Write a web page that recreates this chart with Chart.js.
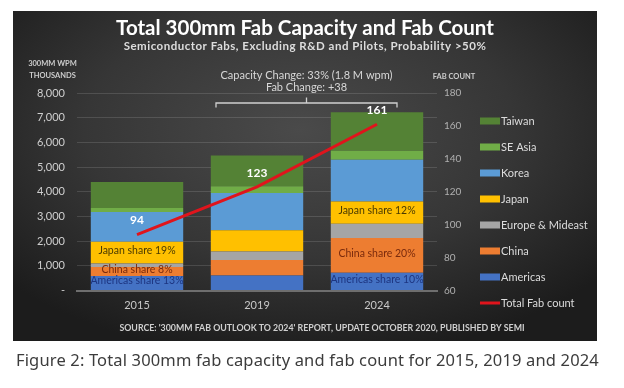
<!DOCTYPE html>
<html>
<head>
<meta charset="utf-8">
<script src="https://cdn.jsdelivr.net/npm/chart.js@4.4.1/dist/chart.umd.min.js"></script>
<style>
  html, body { margin: 0; padding: 0; background: #ffffff; }
  #wrap { position: relative; width: 624px; height: 388px; }
  canvas { display: block; }
</style>
</head>
<body>
<div id="wrap"><canvas id="c" width="624" height="388"></canvas></div>
<script>
// ---- data ----
const categories = ['2015', '2019', '2024'];
const americas = [590, 610, 720];
const china = [360, 630, 1410];
const europeMideast = [140, 340, 570];
const japan = [880, 860, 910];
const korea = [1210, 1510, 1690];
const seAsia = [160, 270, 360];
const taiwan = [1050, 1250, 1560];
const fabCount = [94, 123, 161];
const leftTickLabels = ['-', '1,000', '2,000', '3,000', '4,000', '5,000', '6,000', '7,000', '8,000'];
const rightTickLabels = ['60', '80', '100', '120', '140', '160', '180'];
const japanShare = ['Japan share 19%', '', 'Japan share 12%'];
const chinaShare = ['China share 8%', '', 'China share 20%'];
const americasShare = ['Americas share 13%', '', 'Americas share 10%'];
const titleText = 'Total 300mm Fab Capacity and Fab Count';
const subtitleText = 'Semiconductor Fabs, Excluding R&D and Pilots, Probability >50%';
const leftAxisTitle = ['300MM WPM', 'THOUSANDS'];
const rightAxisTitle = 'FAB COUNT';
const changeNotes = ['Capacity Change: 33% (1.8 M wpm)', 'Fab Change: +38'];
const sourceText = "SOURCE: '300MM FAB OUTLOOK TO 2024' REPORT, UPDATE OCTOBER 2020, PUBLISHED BY SEMI";
const captionText = 'Figure 2: Total 300mm fab capacity and fab count for 2015, 2019 and 2024';

const FONT = 'Lato, "Liberation Sans", sans-serif';

const barSets = [
  { label: 'Americas', data: americas, color: '#4472c4', share: americasShare, textColor: '#1d3580' },
  { label: 'China', data: china, color: '#ed7d31', share: chinaShare, textColor: '#7a2a0c' },
  { label: 'Europe & Mideast', data: europeMideast, color: '#a5a5a5', share: null },
  { label: 'Japan', data: japan, color: '#ffc000', share: japanShare, textColor: '#4a3a00' },
  { label: 'Korea', data: korea, color: '#5b9bd5', share: null },
  { label: 'SE Asia', data: seAsia, color: '#70ad47', share: null },
  { label: 'Taiwan', data: taiwan, color: '#548235', share: null }
];

const datasets = barSets.map(s => ({
  type: 'bar', label: s.label, data: s.data, backgroundColor: s.color,
  borderWidth: 0, yAxisID: 'y', stack: 'cap', order: 2,
  categoryPercentage: 1.0, barPercentage: 0.77,
  shareLabels: s.share, shareColor: s.textColor
}));
datasets.push({
  type: 'line', label: 'Total Fab count', data: fabCount, borderColor: '#e0141c',
  backgroundColor: '#e0141c', borderWidth: 3, pointRadius: 0, yAxisID: 'y1', order: 0,
  tension: 0
});

const panelPlugin = {
  id: 'panel',
  beforeDraw(chart) {
    const ctx = chart.ctx;
    ctx.save();
    ctx.fillStyle = '#ffffff';
    ctx.fillRect(0, 0, chart.width, chart.height);
    const x0 = 13, y0 = 11, x1 = 597, y1 = 341;
    ctx.save();
    ctx.beginPath(); ctx.rect(x0, y0, x1 - x0, y1 - y0); ctx.clip();
    ctx.translate(300, 130);
    ctx.scale(1.7, 1);
    const g = ctx.createRadialGradient(0, 0, 0, 0, 0, 230);
    g.addColorStop(0, '#4a4a4a');
    g.addColorStop(0.55, '#363636');
    g.addColorStop(1, '#1c1c1c');
    ctx.fillStyle = g;
    ctx.fillRect(-400, -300, 800, 600);
    ctx.restore();
    ctx.restore();
  }
};

const textPlugin = {
  id: 'texts',
  afterDatasetsDraw(chart) {
    const ctx = chart.ctx;
    ctx.save();
    ctx.textAlign = 'center';
    ctx.textBaseline = 'middle';
    // share labels inside bars
    chart.data.datasets.forEach((ds, di) => {
      if (!ds.shareLabels) return;
      const meta = chart.getDatasetMeta(di);
      meta.data.forEach((bar, i) => {
        const t = ds.shareLabels[i];
        if (!t) return;
        const cy = (bar.y + bar.base) / 2 - 2;
        ctx.font = '10.5px ' + FONT;
        ctx.fillStyle = ds.shareColor;
        ctx.fillText(t, bar.x, cy);
      });
    });
    // fab count labels
    const lineIdx = chart.data.datasets.length - 1;
    const lm = chart.getDatasetMeta(lineIdx);
    ctx.font = 'bold 12px ' + FONT;
    ctx.fillStyle = '#ffffff';
    lm.data.forEach((p, i) => {
      ctx.fillText(String(fabCount[i]), p.x, p.y - 14);
    });
    ctx.restore();
  },
  afterDraw(chart) {
    const ctx = chart.ctx;
    const xs = chart.scales.x;
    ctx.save();
    ctx.textAlign = 'center';
    ctx.textBaseline = 'middle';
    // title & subtitle
    ctx.fillStyle = '#ffffff';
    ctx.font = 'bold 20.5px ' + FONT;
    ctx.fillText(titleText, 305, 28);
    ctx.fillStyle = '#dddddd';
    ctx.font = 'bold 11.5px ' + FONT;
    ctx.letterSpacing = '0.5px';
    ctx.fillText(subtitleText, 305, 46.5);
    ctx.letterSpacing = '0px';
    // axis titles
    ctx.fillStyle = '#cccccc';
    ctx.font = 'bold 7.5px ' + FONT;
    ctx.fillText(leftAxisTitle[0], 52.5, 64);
    ctx.fillText(leftAxisTitle[1], 52.5, 76);
    ctx.fillText(rightAxisTitle, 454, 77);
    // change notes + bracket
    const bl = xs.getPixelForValue(1) - 41, br = xs.getPixelForValue(2) + 20;
    const mid = (bl + br) / 2;
    ctx.fillStyle = '#d8d8d8';
    ctx.font = '11px ' + FONT;
    ctx.fillText(changeNotes[0], mid, 75);
    ctx.fillText(changeNotes[1], mid, 87.5);
    ctx.strokeStyle = '#d0d0d0';
    ctx.lineWidth = 1.3;
    ctx.beginPath();
    ctx.moveTo(bl, 107.5); ctx.lineTo(bl, 103); ctx.lineTo(br, 103); ctx.lineTo(br, 107.5);
    ctx.moveTo(mid, 103); ctx.lineTo(mid, 97.5);
    ctx.stroke();
    // legend (custom, reversed bar order + line)
    const items = chart.data.datasets.slice(0, -1).reverse();
    items.push(chart.data.datasets[chart.data.datasets.length - 1]);
    ctx.textAlign = 'left';
    ctx.font = '11px ' + FONT;
    items.forEach((d, i) => {
      const y = 121 + i * 26;
      if (d.type === 'line') {
        ctx.fillStyle = d.borderColor;
        ctx.fillRect(480, y - 1.5, 20, 3);
      } else {
        ctx.fillStyle = d.backgroundColor;
        ctx.fillRect(480, y - 3.5, 20, 7);
      }
      ctx.fillStyle = '#dcdcdc';
      ctx.fillText(d.label, 501, y);
    });
    // source
    ctx.textAlign = 'center';
    ctx.fillStyle = '#cfcfcf';
    ctx.font = 'bold 8.8px ' + FONT;
    ctx.fillText(sourceText, 322, 328);
    // caption
    ctx.textAlign = 'left';
    ctx.fillStyle = '#3c3c3c';
    ctx.font = '16.5px "Noto Sans", sans-serif';
    ctx.letterSpacing = '0.15px';
    ctx.fillText(captionText, 16, 361);
    ctx.letterSpacing = '0px';
    ctx.restore();
  }
};

new Chart(document.getElementById('c'), {
  data: { labels: categories, datasets },
  options: {
    responsive: false,
    devicePixelRatio: 1,
    animation: false,
    layout: { padding: { top: 93, left: 0, right: 147, bottom: 75.5 } },
    plugins: { legend: { display: false }, tooltip: { enabled: false }, title: { display: false } },
    scales: {
      x: {
        stacked: true,
        grid: { display: false, drawTicks: false },
        border: { display: true, color: '#6e6e6e', width: 2 },
        ticks: { color: '#c8c8c8', font: { family: FONT, size: 11 }, padding: 8 },
        afterFit(s) { s.height = 22; }
      },
      y: {
        stacked: true, position: 'left', min: 0, max: 8000,
        grid: { color: 'rgba(255,255,255,0.13)', lineWidth: 1, drawTicks: false },
        border: { display: false },
        ticks: {
          stepSize: 1000, padding: 12, color: '#cfcfcf',
          font: { family: FONT, size: 11 },
          callback: (v) => leftTickLabels[Math.round(v / 1000)]
        },
        afterFit(s) { s.width = 77; }
      },
      y1: {
        position: 'right', min: 60, max: 180,
        grid: { drawOnChartArea: false, drawTicks: false },
        border: { display: false },
        ticks: {
          stepSize: 20, padding: 7, color: '#b0b0b0',
          font: { family: FONT, size: 10 },
          callback: (v) => rightTickLabels[Math.round((v - 60) / 20)]
        },
        afterFit(s) { s.width = 40; }
      }
    }
  },
  plugins: [panelPlugin, textPlugin]
});
</script>
</body>
</html>
